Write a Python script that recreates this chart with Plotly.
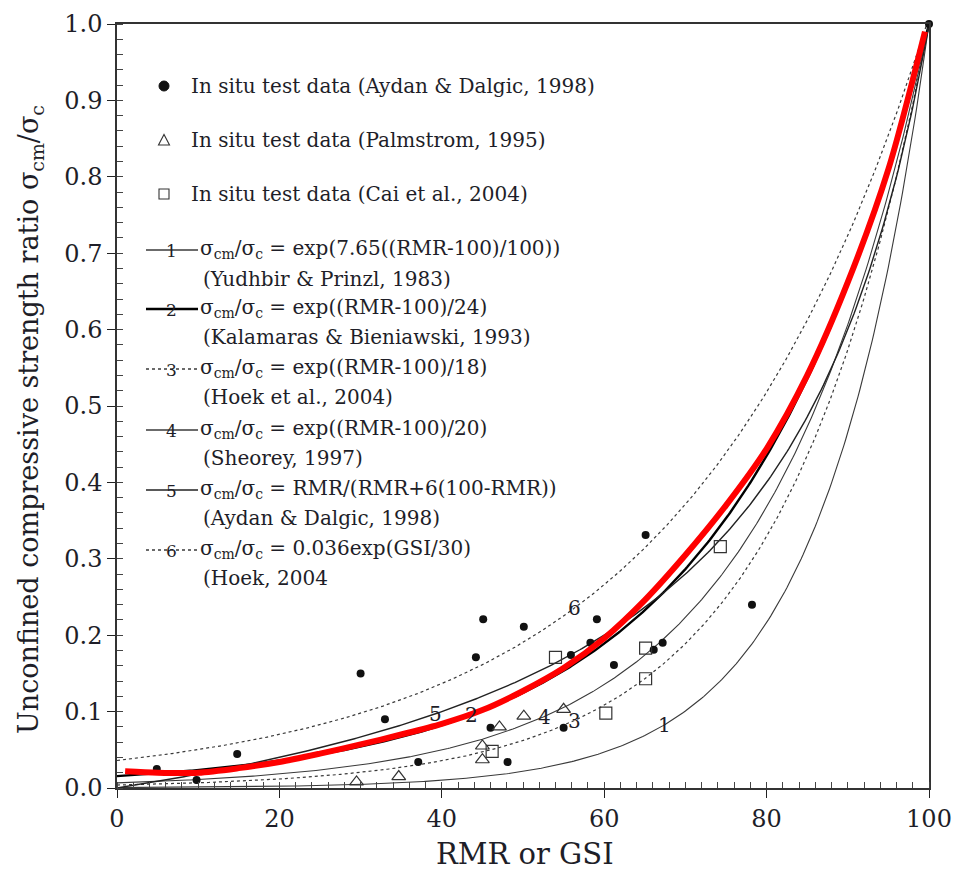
import numpy as np
import plotly.graph_objects as go

# ---------------- data ----------------
# In situ test data (Aydan & Dalgic, 1998) - filled circles
aydan_x = [4.9, 9.8, 14.8, 30.0, 33.0, 37.1, 44.2, 45.1, 46.0, 48.1, 50.1, 55.0, 55.9, 58.3, 59.1, 61.2, 65.1, 66.1, 67.2, 78.2, 100.0]
aydan_y = [0.025, 0.0105, 0.0445, 0.150, 0.090, 0.034, 0.171, 0.221, 0.079, 0.034, 0.211, 0.079, 0.174, 0.190, 0.221, 0.161, 0.331, 0.181, 0.190, 0.240, 1.0]
# In situ test data (Palmstrom, 1995) - open triangles
palm_x = [29.5, 34.7, 45.0, 45.0, 47.1, 50.1, 55.0]
palm_y = [0.008, 0.015, 0.037, 0.055, 0.080, 0.094, 0.103]
# In situ test data (Cai et al., 2004) - open squares
cai_x = [46.2, 54.0, 60.2, 65.1, 65.1, 74.3]
cai_y = [0.048, 0.171, 0.098, 0.143, 0.183, 0.316]
# red fitted curve
red_x = [1, 5, 10, 15, 20, 25, 30, 35, 40, 45, 50, 55, 60, 65, 70, 75, 80, 85, 90, 95, 99.5]
red_y = [0.022, 0.020, 0.020, 0.026, 0.034, 0.045, 0.057, 0.070, 0.084, 0.102, 0.127, 0.157, 0.196, 0.246, 0.305, 0.370, 0.444, 0.540, 0.662, 0.810, 0.990]

# empirical relations given in the legend
curve_ids = ["1", "2", "3", "4", "5", "6"]
exp_coef = {"1": 100 / 7.65, "2": 24, "3": 18, "4": 20}
label_x = {"1": 67.4, "2": 43.7, "3": 56.3, "4": 52.6, "5": 39.2, "6": 56.3}

formula_text = [
    "σ<sub>cm</sub>/σ<sub>c</sub> = exp(7.65((RMR-100)/100))",
    "σ<sub>cm</sub>/σ<sub>c</sub> = exp((RMR-100)/24)",
    "σ<sub>cm</sub>/σ<sub>c</sub> = exp((RMR-100)/18)",
    "σ<sub>cm</sub>/σ<sub>c</sub> = exp((RMR-100)/20)",
    "σ<sub>cm</sub>/σ<sub>c</sub> = RMR/(RMR+6(100-RMR))",
    "σ<sub>cm</sub>/σ<sub>c</sub> = 0.036exp(GSI/30)",
]
source_text = [
    "(Yudhbir & Prinzl, 1983)",
    "(Kalamaras & Bieniawski, 1993)",
    "(Hoek et al., 2004)",
    "(Sheorey, 1997)",
    "(Aydan & Dalgic, 1998)",
    "(Hoek, 2004",
]
point_labels = [
    "In situ test data (Aydan & Dalgic, 1998)",
    "In situ test data (Palmstrom, 1995)",
    "In situ test data (Cai et al., 2004)",
]
x_ticks = [0, 20, 40, 60, 80, 100]
y_ticks = [0.0, 0.1, 0.2, 0.3, 0.4, 0.5, 0.6, 0.7, 0.8, 0.9, 1.0]
x_title = "RMR or GSI"
y_title = "Unconfined compressive strength ratio σ<sub>cm</sub>/σ<sub>c</sub>"


def relation(cid, x):
    x = np.asarray(x, dtype=float)
    if cid in exp_coef:
        return np.exp((x - 100) / exp_coef[cid])
    if cid == "5":
        return x / (x + 6 * (100 - x))
    return 0.036 * np.exp(x / 30)


styles = {
    "1": dict(color="#3a3a3a", width=1.1, dash="solid"),
    "2": dict(color="#000000", width=2.4, dash="solid"),
    "3": dict(color="#3a3a3a", width=1.2, dash="dot"),
    "4": dict(color="#3a3a3a", width=1.1, dash="solid"),
    "5": dict(color="#222222", width=1.4, dash="solid"),
    "6": dict(color="#3a3a3a", width=1.2, dash="dot"),
}

SERIF = "DejaVu Serif"
TXT = "#1e1e28"

fig = go.Figure()
xs = np.linspace(0, 100, 401)
for cid in curve_ids:
    fig.add_trace(go.Scatter(x=xs, y=relation(cid, xs), mode="lines",
                             line=styles[cid], showlegend=False, hoverinfo="skip"))

fig.add_trace(go.Scatter(x=aydan_x, y=aydan_y, mode="markers",
                         marker=dict(symbol="circle", size=8, color="#111111"),
                         showlegend=False, cliponaxis=False))
fig.add_trace(go.Scatter(x=palm_x, y=palm_y, mode="markers",
                         marker=dict(symbol="triangle-up-open", size=12, color="#333333",
                                     line=dict(width=1.2)),
                         showlegend=False, cliponaxis=False))
fig.add_trace(go.Scatter(x=cai_x, y=cai_y, mode="markers",
                         marker=dict(symbol="square-open", size=12, color="#333333",
                                     line=dict(width=1.2)),
                         showlegend=False, cliponaxis=False))
fig.add_trace(go.Scatter(x=red_x, y=red_y, mode="lines", line_shape="spline",
                         line=dict(color="#ff0000", width=6, smoothing=0.8), showlegend=False))

annotations = []
# curve number labels
for cid in curve_ids:
    annotations.append(dict(x=label_x[cid], y=float(relation(cid, label_x[cid])),
                            xref="x", yref="y", text=cid, showarrow=False,
                            font=dict(family=SERIF, size=20, color=TXT),
                            xanchor="center", yanchor="middle"))

# ---- manual legend (pixel layout -> paper coords) ----
PL, PR, PT, PB = 117, 929, 24, 788


def fx(px):
    return (px - PL) / (PR - PL)


def fy(py):
    return (PB - py) / (PB - PT)


shapes = []
sym_x = 164
rows_pts = [86, 140, 194]
# circle
shapes.append(dict(type="circle", xref="paper", yref="paper",
                   x0=fx(sym_x - 5), x1=fx(sym_x + 5), y0=fy(rows_pts[0] + 5), y1=fy(rows_pts[0] - 5),
                   fillcolor="#111111", line=dict(color="#111111", width=1)))
# triangle
ty = rows_pts[1]
shapes.append(dict(type="path", xref="paper", yref="paper",
                   path="M {} {} L {} {} L {} {} Z".format(fx(sym_x - 5.5), fy(ty + 5), fx(sym_x + 5.5), fy(ty + 5),
                                                           fx(sym_x), fy(ty - 5.5)),
                   line=dict(color="#333333", width=1.1)))
# square
sy = rows_pts[2]
shapes.append(dict(type="rect", xref="paper", yref="paper",
                   x0=fx(sym_x - 5), x1=fx(sym_x + 5), y0=fy(sy + 5), y1=fy(sy - 5),
                   line=dict(color="#333333", width=1.1)))
for lab, ry in zip(point_labels, rows_pts):
    annotations.append(dict(x=fx(189), y=fy(ry), xref="paper", yref="paper", text=lab,
                            showarrow=False, xanchor="left", yanchor="middle",
                            font=dict(family=SERIF, size=20, color=TXT)))

rows_f = [247, 306, 366, 427, 487, 547]
rows_s = [279, 337, 397, 458, 518, 578]
for cid, ftxt, stxt, r1, r2 in zip(curve_ids, formula_text, source_text, rows_f, rows_s):
    st = styles[cid]
    shapes.append(dict(type="line", xref="paper", yref="paper",
                       x0=fx(146), x1=fx(198), y0=fy(r1 + 3), y1=fy(r1 + 3),
                       line=dict(color=st["color"], width=st["width"] + 0.3, dash=st["dash"])))
    annotations.append(dict(x=fx(171), y=fy(r1 + 4), xref="paper", yref="paper", text=cid,
                            showarrow=False, xanchor="center", yanchor="middle",
                            font=dict(family=SERIF, size=17, color=TXT)))
    annotations.append(dict(x=fx(198), y=fy(r1 + 2), xref="paper", yref="paper", text=ftxt,
                            showarrow=False, xanchor="left", yanchor="middle",
                            font=dict(family=SERIF, size=20, color=TXT)))
    annotations.append(dict(x=fx(201), y=fy(r2), xref="paper", yref="paper", text=stxt,
                            showarrow=False, xanchor="left", yanchor="middle",
                            font=dict(family=SERIF, size=20, color=TXT)))

# axis titles placed as annotations
annotations.append(dict(x=fx(525), y=fy(854), xref="paper", yref="paper", text=x_title,
                        showarrow=False, xanchor="center", yanchor="middle",
                        font=dict(family=SERIF, size=29, color=TXT)))
annotations.append(dict(x=fx(31), y=fy(420), xref="paper", yref="paper", text=y_title,
                        showarrow=False, xanchor="center", yanchor="middle", textangle=-90,
                        font=dict(family=SERIF, size=27, color=TXT)))

fig.update_layout(
    width=956, height=871,
    margin=dict(l=PL, r=956 - PR, t=PT, b=871 - PB, autoexpand=False),
    plot_bgcolor="white", paper_bgcolor="white",
    annotations=annotations, shapes=shapes,
    showlegend=False,
    font=dict(family=SERIF, color=TXT),
)
fig.update_xaxes(range=[0, 100], tickvals=x_ticks, ticktext=[str(v) for v in x_ticks],
                 ticks="outside", ticklen=8, tickcolor="#222", tickwidth=1.2,
                 minor=dict(ticks="inside", dtick=2, ticklen=6, tickcolor="#444", tickwidth=1),
                 showline=True, linecolor="#333", linewidth=1.5, mirror=True,
                 showgrid=False, zeroline=False, automargin=False,
                 tickfont=dict(family=SERIF, size=24, color=TXT))
fig.update_yaxes(range=[0, 1.0], tickvals=y_ticks, ticktext=["{:.1f}".format(v) for v in y_ticks],
                 ticks="outside", ticklen=8, tickcolor="#222", tickwidth=1.2,
                 minor=dict(ticks="inside", dtick=0.02, ticklen=6, tickcolor="#444", tickwidth=1),
                 showline=True, linecolor="#333", linewidth=1.5, mirror=True,
                 showgrid=False, zeroline=False, automargin=False,
                 tickfont=dict(family=SERIF, size=24, color=TXT))

fig.write_html("out.html")
